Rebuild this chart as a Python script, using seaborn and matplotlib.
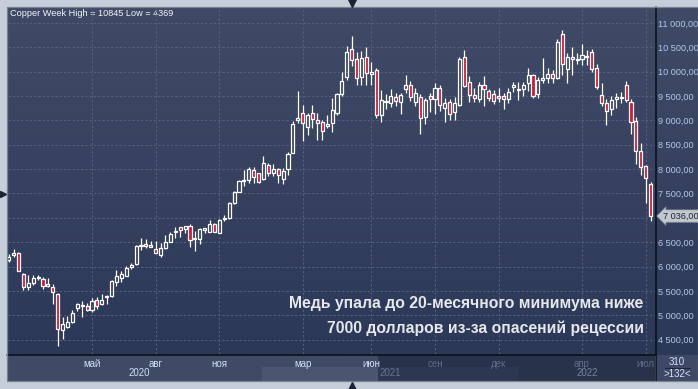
import numpy as np
import pandas as pd
import matplotlib
matplotlib.use("Agg")
import matplotlib.pyplot as plt
import matplotlib.transforms as mtransforms
from matplotlib.colors import LinearSegmentedColormap
from matplotlib.patches import Rectangle
import seaborn as sns

# ---------------- data (weekly OHLC, LME copper) ----------------
opens = [6140, 6230, 6278, 5847, 5586, 5656, 5765, 5738, 5600, 5586,
         5436, 4690, 4765, 4855, 5143, 5180, 5196, 5108, 5307, 5225,
         5375, 5400, 5680, 5770, 5810, 5985, 6052, 6420, 6455, 6410,
         6360, 6245, 6375, 6500, 6715, 6805, 6765, 6825, 6560, 6560,
         6760, 6715, 6875, 6695, 6970, 7000, 7310, 7537, 7760, 7770,
         7976, 7915, 7790, 8080, 7915, 7997, 7790, 7997, 8337, 9010,
         9146, 8860, 9146, 9010, 8968, 8890, 8940, 9146, 9542, 9900,
         10460, 10255, 9885, 10296, 9955, 10035, 9110, 9380, 9365, 9487,
         9385, 9640, 9720, 9385, 9475, 9064, 9500, 9434, 9660, 9250,
         9372, 9180, 9317, 10310, 9783, 9515, 9440, 9730, 9600, 9535,
         9500, 9495, 9434, 9680, 9620, 9640, 9762, 9933, 9535, 9830,
         9865, 9946, 9865, 10768, 10050, 10296, 10230, 10260, 10300, 10410,
         10083, 9522, 9350, 9234, 9445, 9460, 9727, 9385, 8995, 8372,
         8065, 7695]
highs = [6260, 6360, 6300, 5870, 5826, 5830, 5830, 5790, 5775, 5650,
         5450, 4960, 4990, 5110, 5250, 5290, 5250, 5360, 5380, 5440,
         5420, 5730, 5920, 5900, 6020, 6080, 6440, 6590, 6560, 6520,
         6520, 6490, 6640, 6700, 6810, 6820, 6840, 6870, 6720, 6790,
         6800, 6960, 6890, 6970, 7050, 7320, 7550, 7780, 7980, 8050,
         8050, 7930, 8260, 8120, 8100, 8020, 8020, 8360, 8990, 9600,
         9310, 9160, 9310, 9150, 9010, 9100, 9450, 9570, 9990, 10520,
         10733, 10410, 10420, 10500, 10200, 10080, 9620, 9550, 9640, 9560,
         9560, 9930, 9810, 9660, 9540, 9460, 9560, 9760, 9720, 9450,
         9440, 9480, 10300, 10450, 9920, 9660, 9780, 9910, 9650, 9620,
         9660, 9560, 9660, 9790, 9790, 9790, 10070, 9960, 9900, 10275,
         10070, 10040, 10665, 10845, 10390, 10513, 10390, 10570, 10450, 10460,
         10150, 9760, 9440, 9500, 9570, 9590, 9810, 9440, 9063, 8530,
         8085, 7740]
lows = [6100, 6200, 5900, 5520, 5520, 5620, 5730, 5540, 5590, 5230,
        4369, 4510, 4740, 4840, 5090, 4960, 5090, 5060, 5120, 5210,
        5240, 5380, 5600, 5680, 5800, 5940, 6040, 6340, 6380, 6400,
        6270, 6190, 6350, 6500, 6590, 6610, 6690, 6400, 6320, 6460,
        6680, 6700, 6700, 6680, 6940, 6980, 7280, 7530, 7660, 7720,
        7720, 7720, 7780, 7850, 7850, 7720, 7700, 7870, 8320, 8950,
        8580, 8700, 8850, 8600, 8600, 8840, 8760, 9110, 9510, 9830,
        10125, 9720, 9720, 9720, 9720, 9050, 8960, 9240, 9270, 9300,
        9140, 9570, 9390, 9290, 8720, 8930, 9180, 9130, 9200, 8970,
        9000, 9010, 9300, 9680, 9380, 9370, 9380, 9300, 9400, 9340,
        9370, 9230, 9350, 9590, 9420, 9490, 9600, 9460, 9460, 9760,
        9760, 9760, 9845, 9930, 9770, 9930, 10160, 10140, 10140, 10000,
        9650, 9300, 8900, 9110, 9260, 9360, 9380, 8730, 8105, 7880,
        7300, 6940]
closes = [6200, 6270, 5915, 5580, 5655, 5760, 5790, 5610, 5640, 5470,
          4712, 4827, 4870, 5046, 5225, 5200, 5114, 5293, 5190, 5307,
          5400, 5700, 5800, 5840, 5975, 6025, 6420, 6440, 6415, 6425,
          6280, 6375, 6500, 6670, 6735, 6750, 6825, 6540, 6590, 6770,
          6780, 6870, 6715, 6955, 7000, 7300, 7520, 7756, 7780, 7997,
          7832, 7742, 8120, 7927, 7997, 7873, 7955, 8305, 8920, 9045,
          8953, 9100, 9035, 8940, 8777, 8925, 9215, 9542, 9803, 10405,
          10240, 9865, 10275, 9967, 9990, 9110, 9420, 9400, 9500, 9405,
          9515, 9720, 9475, 9555, 9045, 9420, 9440, 9660, 9317, 9350,
          9130, 9350, 10255, 9710, 9522, 9465, 9730, 9650, 9455, 9405,
          9455, 9440, 9577, 9727, 9640, 9727, 9933, 9508, 9830, 9865,
          9946, 9865, 10617, 10158, 10310, 10255, 10255, 10343, 10320, 10050,
          9692, 9364, 9200, 9420, 9475, 9487, 9420, 8974, 8378, 8037,
          7812, 7036]

dates = pd.date_range("2020-01-06", periods=len(opens), freq="7D")
tick_months = [(2020, 5), (2020, 8), (2020, 11), (2021, 3), (2021, 6),
               (2021, 9), (2021, 12), (2022, 4), (2022, 7)]
month_names = {3: "мар", 4: "апр", 5: "май", 6: "июн", 7: "июл",
               8: "авг", 9: "сен", 11: "ноя", 12: "дек"}
year_labels = ["2020", "2021", "2022"]
price_ticks = list(range(4500, 11001, 500))
note_lines = ["Медь упала до 20-месячного минимума ниже",
              "7000 долларов из-за опасений рецессии"]
bars_visible = len(opens)
bars_total = 310

df = pd.DataFrame({"date": dates, "open": opens, "high": highs,
                   "low": lows, "close": closes})
df["idx"] = np.arange(len(df))

# ---------------- style ----------------
sns.set_theme(style="dark")
plt.rcParams["font.family"] = ["Liberation Sans", "DejaVu Sans"]

W, H = 698, 389
fig = plt.figure(figsize=(W / 100, H / 100), dpi=100, facecolor="#c6ced9")

def fr(x0, y0, x1, y1):
    return [x0 / W, 1 - y1 / H, (x1 - x0) / W, (y1 - y0) / H]

# overlay in pixel coordinates
ov = fig.add_axes([0, 0, 1, 1], zorder=0)
ov.set_xlim(0, W)
ov.set_ylim(H, 0)
ov.axis("off")

grad = LinearSegmentedColormap.from_list("bg", ["#3f4b66", "#2c3858"])
ov.imshow(np.linspace(0, 1, 256).reshape(-1, 1), cmap=grad, aspect="auto",
          extent=(7, W, 355, 7), origin="upper", zorder=0)
# bottom time-axis panel
ov.add_patch(Rectangle((7, 355), 371, 26, fc="#3e4a66", ec="none", zorder=1))
ov.add_patch(Rectangle((262, 367), 116, 14, fc="#4a5671", ec="none", zorder=1))
ov.add_patch(Rectangle((378, 355), 277, 26, fc="#28324b", ec="none", zorder=1))
ov.add_patch(Rectangle((378, 367), 140, 14, fc="#2d3751", ec="none", zorder=1))
ov.add_patch(Rectangle((656, 355), 42, 26, fc="#3d4966", ec="none", zorder=1))
# separators
ov.plot([7, 656], [354.5, 354.5], color="#0a0d14", lw=1.1, zorder=3)
ov.plot([655.5, 655.5], [7, 381], color="#0a0d14", lw=1.1, zorder=3)
ov.plot([665, 690], [367.5, 367.5], color="#1e2638", lw=0.8, zorder=3)
ov.add_patch(Rectangle((7, 7), 691, 374, fc="none", ec="#7b8391", lw=0.9, zorder=4))
# little navigation triangles
ov.plot(3, 194, marker=">", ms=5, color="#1b2336", zorder=5)
ov.plot(352, 386, marker="^", ms=5.5, color="#1b2336", zorder=5)
ov.plot(352, 2.5, marker="v", ms=5.5, color="#1b2336", zorder=5)

# year labels and counters
ov.text(139, 373.5, year_labels[0], ha="center", va="center", fontsize=7,
        color="#d2e0f6", zorder=5)
ov.text(380, 373.5, year_labels[1], ha="left", va="center", fontsize=7,
        color="#66748f", zorder=5)
ov.text(587, 373.5, year_labels[2], ha="center", va="center", fontsize=7,
        color="#7583a0", zorder=5)
ov.text(677, 362, str(bars_total), ha="center", va="center", fontsize=7,
        color="#d6e2f4", zorder=5)
ov.text(677, 374, ">%d<" % bars_visible, ha="center", va="center", fontsize=7,
        color="#d6e2f4", zorder=5)

# title
ov.text(10, 13.5, "Copper Week High = %d Low = %d" % (max(highs), min(lows)),
        ha="left", va="center", fontsize=6.6, color="#f2f5fa", zorder=5)

# ---------------- main price axes ----------------
ax = fig.add_axes(fr(8.3, 8.3, 655, 354), zorder=2)
ax.set_facecolor("none")
for s in ax.spines.values():
    s.set_visible(False)

ax.set_xlim(-0.08, len(df) - 0.1)
ax.set_ylim(4205, 11300)

up = df[df.close >= df.open]
dn = df[df.close < df.open]
body_lo = np.minimum(df.open, df.close)
body_hi = np.maximum(df.open, df.close)
ax.vlines(df.idx, df.low, body_lo, color="white", lw=0.9, zorder=3)
ax.vlines(df.idx, body_hi, df.high, color="white", lw=0.9, zorder=3)
hgt = np.maximum(body_hi - body_lo, 22)
ax.bar(up.idx, hgt[up.index], bottom=body_lo[up.index], width=0.64,
       facecolor="none", edgecolor="white", linewidth=0.9, zorder=4)
ax.bar(dn.idx, hgt[dn.index], bottom=body_lo[dn.index], width=0.64,
       facecolor="#e0102e", edgecolor="white", linewidth=0.9, zorder=4)

# ticks: months
tick_pos, tick_lab = [], []
for (yy, mm) in tick_months:
    sel = df[(df.date.dt.year == yy) & (df.date.dt.month == mm)]
    tick_pos.append(int(sel.idx.iloc[0]))
    tick_lab.append(month_names[mm])
ax.set_xticks(tick_pos)
ax.set_xticklabels(tick_lab)
ax.tick_params(axis="x", length=0, pad=3.8, labelsize=7)
xpix = ax.transData.transform(np.column_stack([tick_pos, np.full(len(tick_pos), 5000)]))[:, 0]
for lab, px in zip(ax.get_xticklabels(), xpix):
    lab.set_color("#d2e0f6" if px < 378 else "#5f6d89")

# ticks: prices on the right (the one hidden under the last-price tag is left blank)
last = closes[-1]
def fmt(v):
    return f"{v:,.2f}".replace(",", " ").replace(".", ",")
ax.set_yticks(price_ticks)
ax.set_yticklabels(["" if abs(v - last) < 250 else fmt(v) for v in price_ticks])
ax.yaxis.tick_right()
ax.tick_params(axis="y", length=0, pad=2.5, labelsize=6.6, labelcolor="#b2c8ea")

ax.grid(True, color="#56627d", linestyle=(0, (2.2, 2.2)), linewidth=0.7)
ax.set_axisbelow(True)

# last price tag
blend = mtransforms.blended_transform_factory(ax.transAxes, ax.transData)
ax.annotate(fmt(last), xy=(1.0, last), xycoords=blend, xytext=(6, 0),
            textcoords="offset points", ha="left", va="center",
            fontsize=6.6, color="#1a2234", zorder=10, annotation_clip=False,
            bbox=dict(boxstyle="larrow,pad=0.18", fc="#c3c7ce", ec="#8e949e", lw=0.5))

# annotation text
ax.text(0.9815, 0.1475, note_lines[0], transform=ax.transAxes, ha="right",
        va="center", fontsize=11.3, fontweight="bold", color="#e6e8ec", zorder=8)
ax.text(0.9830, 0.075, note_lines[1], transform=ax.transAxes, ha="right",
        va="center", fontsize=11.3, fontweight="bold", color="#e6e8ec", zorder=8)

fig.savefig("out.png", dpi=100, facecolor=fig.get_facecolor())
